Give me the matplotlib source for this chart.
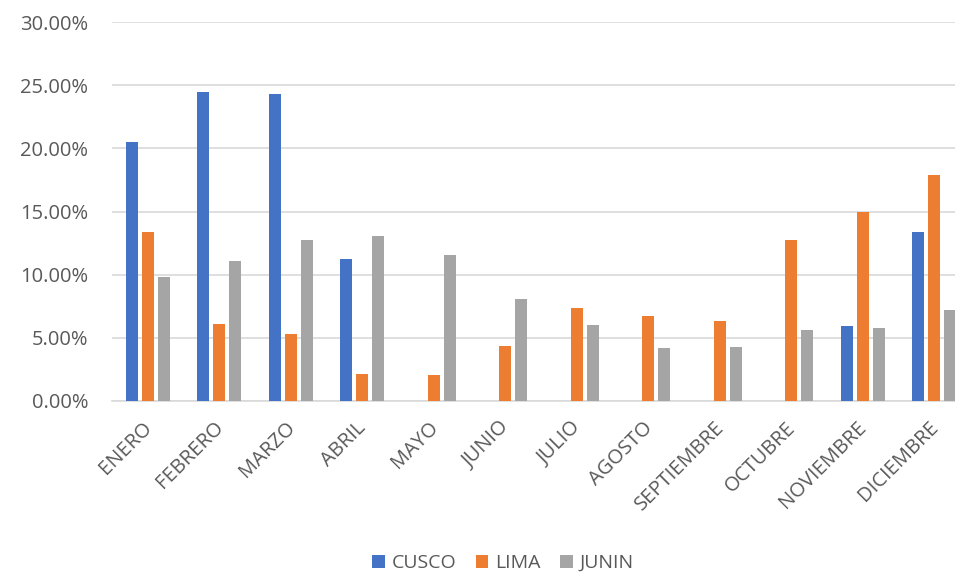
import matplotlib
matplotlib.use("Agg")
import matplotlib.pyplot as plt
import matplotlib.transforms as mtransforms
import numpy as np
from matplotlib.ticker import PercentFormatter

meses = ["ENERO", "FEBRERO", "MARZO", "ABRIL", "MAYO", "JUNIO", "JULIO",
         "AGOSTO", "SEPTIEMBRE", "OCTUBRE", "NOVIEMBRE", "DICIEMBRE"]
cusco = [20.50, 24.44, 24.29, 11.24, 0, 0, 0, 0, 0, 0, 5.97, 13.34]
lima = [13.36, 6.11, 5.32, 2.17, 2.06, 4.38, 7.40, 6.74, 6.37, 12.73, 14.99, 17.90]
junin = [9.84, 11.08, 12.78, 13.07, 11.53, 8.11, 6.02, 4.16, 4.24, 5.65, 5.78, 7.19]

plt.rcParams['font.family'] = ['Open Sans', 'DejaVu Sans']
texto = '#595959'

fig = plt.figure(figsize=(9.55, 5.74), dpi=100)
ax = fig.add_axes([112 / 955, 173 / 574, 858 / 955, 379 / 574])

x = np.arange(len(meses))
w = 0.17
off = 0.225
ax.bar(x - off, cusco, w, color='#4472C4', label='CUSCO', zorder=3)
ax.bar(x, lima, w, color='#ED7D31', label='LIMA', zorder=3)
ax.bar(x + off, junin, w, color='#A5A5A5', label='JUNIN', zorder=3)

ax.set_xlim(-0.5, len(meses) - 0.5)
ax.set_ylim(0, 30)
ax.set_yticks(np.arange(0, 31, 5))
ax.yaxis.set_major_formatter(PercentFormatter(decimals=2))
ax.grid(axis='y', color='#D9D9D9', linewidth=1.2, zorder=0)
for lado in ['top', 'right', 'left']:
    ax.spines[lado].set_visible(False)
ax.spines['bottom'].set_color('#D9D9D9')
ax.spines['bottom'].set_linewidth(1.2)
ax.tick_params(axis='both', length=0, labelsize=14.5, colors=texto)
ax.tick_params(axis='y', pad=17)
ax.set_xticks(x)
ax.set_xticklabels(meses, rotation=45, ha='right', rotation_mode='anchor')
ax.tick_params(axis='x', pad=12)
# mover un poco las etiquetas hacia la izquierda
desplaz = mtransforms.ScaledTranslation(-6 / 100, 0, fig.dpi_scale_trans)
for lbl in ax.get_xticklabels():
    lbl.set_transform(lbl.get_transform() + desplaz)

fig.legend(loc='center', bbox_to_anchor=(503 / 955, 1 - 563 / 574), ncol=3,
           frameon=False, fontsize=14, labelcolor=texto, handlelength=0.65,
           handleheight=0.65, handletextpad=0.35, columnspacing=1.0)

fig.savefig('out.png', dpi=100)
